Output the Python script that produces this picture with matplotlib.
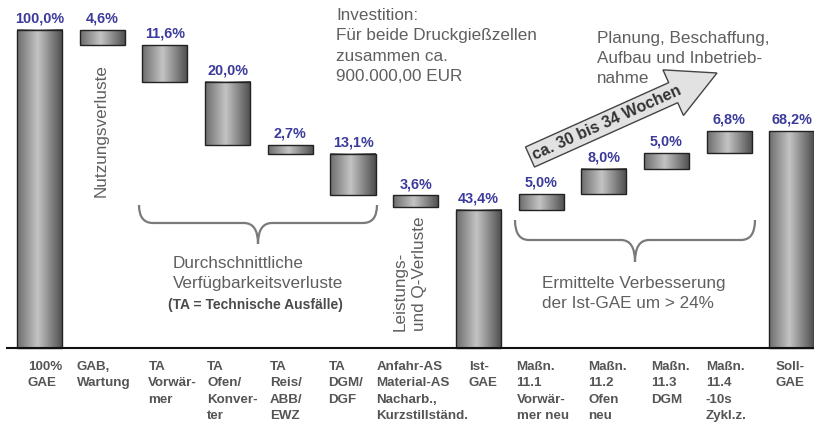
import numpy as np
import matplotlib
matplotlib.use("Agg")
import matplotlib.pyplot as plt
from matplotlib.path import Path
from matplotlib.patches import PathPatch, Polygon
from matplotlib.colors import LinearSegmentedColormap

# Waterfall: Gesamtanlageneffektivitaet (GAE)
categories = ["100%\nGAE", "GAB,\nWartung", "TA\nVorwär-\nmer", "TA\nOfen/\nKonver-\nter",
              "TA\nReis/\nABB/\nEWZ", "TA\nDGM/\nDGF",
              "Anfahr-AS\nMaterial-AS\nNacharb.,\nKurzstillständ.", "Ist-\nGAE",
              "Maßn.\n11.1\nVorwär-\nmer neu", "Maßn.\n11.2\nOfen\nneu", "Maßn.\n11.3\nDGM",
              "Maßn.\n11.4\n-10s\nZykl.z.", "Soll-\nGAE"]
values = [100.0, 4.6, 11.6, 20.0, 2.7, 13.1, 3.6, 43.4, 5.0, 8.0, 5.0, 6.8, 68.2]
kinds = ["total", "down", "down", "down", "down", "down", "down", "total",
         "up", "up", "up", "up", "total"]

W, H = 814, 424
X0, DX = 39.5, 62.7      # pixel centre of first bar, bar spacing
Y0, DY = 348.0, 3.18     # baseline pixel row, pixels per percent


def px(x, y):
    # image pixel (y down) -> data coords
    return (x - X0) / DX, (Y0 - y) / DY


def brace(ax, x0, x1, y_top, y_mid, y_tip, r=14, **kw):
    xc = (x0 + x1) / 2
    pts = [(x0, y_top), (x0, y_mid), (x0 + r, y_mid), (xc - r, y_mid), (xc, y_mid), (xc, y_tip),
           (xc, y_mid), (xc + r, y_mid), (x1 - r, y_mid), (x1, y_mid), (x1, y_top)]
    codes = [Path.MOVETO, Path.CURVE3, Path.CURVE3, Path.LINETO, Path.CURVE3, Path.CURVE3,
             Path.CURVE3, Path.CURVE3, Path.LINETO, Path.CURVE3, Path.CURVE3]
    ax.add_patch(PathPatch(Path([px(*p) for p in pts], codes), fill=False, **kw))


def main():
    plt.rcParams["font.family"] = ["Liberation Sans", "DejaVu Sans"]

    # running level for the waterfall
    bottoms, heights = [], []
    level = 0.0
    for v, k in zip(values, kinds):
        if k == "total":
            bottoms.append(0.0)
            level = v
        elif k == "down":
            level -= v
            bottoms.append(level)
        else:
            bottoms.append(level)
            level += v
        heights.append(v)

    fig = plt.figure(figsize=(W / 100, H / 100), dpi=100)
    ax = fig.add_axes([0, 0, 1, 1])
    ax.axis("off")

    x = np.arange(len(values))
    bars = ax.bar(x, heights, bottom=bottoms, width=0.72, facecolor="none",
                  edgecolor="#222222", lw=1.0, zorder=3)

    cmap = LinearSegmentedColormap.from_list(
        "cyl", [(0, "#6c6c6c"), (0.45, "#c4c4c4"), (1, "#4c4c4c")])
    grad = np.linspace(0, 1, 256).reshape(1, -1)
    for b in bars:
        ax.imshow(grad, cmap=cmap, aspect="auto", interpolation="bicubic", zorder=2,
                  extent=[b.get_x(), b.get_x() + b.get_width(), b.get_y(), b.get_y() + b.get_height()])

    for i, (v, b, h) in enumerate(zip(values, bottoms, heights)):
        lab = f"{v:.1f}".replace(".", ",") + "%"
        ax.annotate(lab, (i, b + h), xytext=(0, 3), textcoords="offset points",
                    ha="center", va="bottom", color="#3b3b9b", fontsize=10.4, fontweight="bold")

    # baseline
    ax.plot([px(7, 0)[0], px(W, 0)[0]], [0, 0], color="#111111", lw=1.5, zorder=4)

    # category labels below the axis
    nudge = [11, -3, 6, 2, 2, -2, -17, 13, -2, 7, 7, -1, 6]
    for i, lab in enumerate(categories):
        left = X0 - 22.5 + DX * i + nudge[i]
        ax.text(*px(left, 361), lab, ha="left", va="top", fontsize=9.6,
                fontweight="bold", color="#555555", linespacing=1.48)

    grey = "#5f5f5f"
    ax.text(*px(101, 131), "Nutzungsverluste", rotation=90, ha="center", va="center",
            fontsize=12.3, color=grey)
    ax.text(*px(336, 8), "Investition:\nFür beide Druckgießzellen\nzusammen ca.\n900.000,00 EUR",
            ha="left", va="top", fontsize=12.3, color=grey, linespacing=1.45)
    ax.text(*px(597, 31), "Planung, Beschaffung,\nAufbau und Inbetrieb-\nnahme",
            ha="left", va="top", fontsize=12.3, color=grey, linespacing=1.4)

    brace(ax, 139, 377, 205, 223, 244, color="#7a7a7a", lw=1.6, zorder=3)
    ax.text(*px(173, 256), "Durchschnittliche\nVerfügbarkeitsverluste", ha="left", va="top",
            fontsize=12.3, color=grey, linespacing=1.42)
    ax.text(*px(255, 305), "(TA = Technische Ausfälle)", ha="center", va="center",
            fontsize=10, fontweight="bold", color="#4a4a4a")

    ax.text(*px(410, 331), "Leistungs-\nund Q-Verluste", rotation=90, ha="center", va="bottom",
            multialignment="left", fontsize=12.3, color=grey, linespacing=1.4)

    brace(ax, 515, 755, 220, 240, 262, color="#7a7a7a", lw=1.6, zorder=3)
    ax.text(*px(542, 276), "Ermittelte Verbesserung\nder Ist-GAE um > 24%", ha="left", va="top",
            fontsize=12.3, color=grey, linespacing=1.42)

    # big arrow (pixel geometry)
    tail = np.array([530.0, 157.0])
    tip = np.array([717.0, 73.0])
    d = (tip - tail) / np.linalg.norm(tip - tail)
    n = np.array([-d[1], d[0]])
    hd = tip - d * 48
    pts = [tail - n * 11, hd - n * 11, hd - n * 25, tip, hd + n * 25, hd + n * 11, tail + n * 11]
    ax.add_patch(Polygon([px(*p) for p in pts], closed=True, facecolor="#e2e2e2",
                         edgecolor="#444444", lw=1.0, zorder=5))
    ang = np.degrees(np.arctan2(-d[1], d[0]))
    ax.text(*px(607, 123), "ca. 30 bis 34 Wochen", rotation=ang, rotation_mode="anchor",
            ha="center", va="center", fontsize=11.5, fontweight="bold", color="#333333", zorder=6)

    ax.set_xlim(px(0, 0)[0], px(W, 0)[0])
    ax.set_ylim(px(0, H)[1], px(0, 0)[1])

    fig.savefig("out.png", dpi=100)


if __name__ == "__main__":
    main()
